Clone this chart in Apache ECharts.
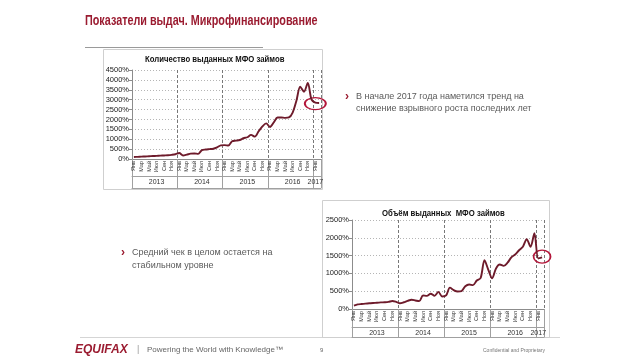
<!DOCTYPE html>
<html><head><meta charset="utf-8">
<script src="https://cdn.jsdelivr.net/npm/echarts@6/dist/echarts.min.js"></script>
<style>html,body{margin:0;padding:0;background:#fff;}#c{width:640px;height:360px;}</style>
</head><body><div id="c"></div>
<script>
const monthNames = ['Янв','Фев','Мар','Апр','Май','Июн','Июл','Авг','Сен','Окт','Ноя','Дек'];
const years = ['2013','2014','2015','2016','2017'];
const monthsPerYear = [12,12,12,12,2];
// Количество выданных МФО займов, %
const countPct = [100,110,120,130,140,150,160,170,180,190,210,240,
  300,180,220,270,280,260,450,480,500,520,590,690,
  700,680,900,930,960,1050,1100,1220,1130,1400,1650,1800,
  1620,1850,2100,2100,2080,2100,2350,2950,3650,3400,3850,3000,
  2850,2830];
// Объём выданных МФО займов, %
const volumePct = [95,130,140,150,160,170,175,185,190,200,225,200,
  160,190,230,260,240,220,380,370,430,370,480,350,
  380,600,530,490,500,640,690,670,800,870,1370,1100,
  860,1140,1250,1210,1300,1450,1530,1650,1750,1960,1750,2130,
  1420,1450];
const countAxis = {min:0, max:4500, step:500};
const volumeAxis = {min:0, max:2500, step:500};
const headerText = 'Показатели выдач. Микрофинансирование';
const chartTitles = ['Количество выданных МФО займов','Объём выданных  МФО займов'];
const bullet1 = ['В начале 2017 года наметился тренд на','снижение взрывного роста последних лет'];
const bullet2 = ['Средний чек в целом остается на','стабильном уровне'];
const highlights = [[48, 2800],[49, 1470]];

const cats = [], yearCats = [];
years.forEach((y,yi)=>{ for(let m=0;m<monthsPerYear[yi];m++){ cats.push(monthNames[m]+' '+y); yearCats.push(y);} });
const FONT = "'Liberation Sans', Arial, sans-serif";
const ycIdx = [6,18,30,42,48];

function xAxesFor(g, off1, off2){
  return [
    {type:'category', gridIndex:g, data:cats, boundaryGap:true,
     axisLine:{lineStyle:{color:'#8c8c8c',width:1}},
     axisTick:{show:true, interval:(i)=>i%12===0, length:off2, lineStyle:{color:'#a0a0a0'}},
     axisLabel:{interval:1, rotate:90, fontSize:5.5, margin:2, color:'#333', fontFamily:FONT, formatter:v=>v.split(' ')[0]},
     splitLine:{show:true, interval:(i)=>i%12===0 && i>0, lineStyle:{type:[3,2], color:'#777', width:1}}},
    {type:'category', gridIndex:g, data:yearCats, boundaryGap:true, position:'bottom', offset:off1,
     axisLine:{lineStyle:{color:'#a0a0a0'}}, axisTick:{show:false},
     axisLabel:{interval:(i)=>ycIdx.indexOf(i)>=0, fontSize:7, margin:3, color:'#333', fontFamily:FONT}},
    {type:'category', gridIndex:g, data:yearCats, position:'bottom', offset:off2,
     axisLine:{lineStyle:{color:'#a0a0a0'}}, axisTick:{show:false}, axisLabel:{show:false}}
  ];
}
function yAxisFor(g, ax){
  return {type:'value', gridIndex:g, min:ax.min, max:ax.max, interval:ax.step,
    axisLine:{show:true, lineStyle:{color:'#8c8c8c'}}, axisTick:{show:true,length:3,lineStyle:{color:'#8c8c8c'}},
    axisLabel:{formatter:(v)=>String(v)+'%', fontSize:7.5, margin:3, color:'#222', fontFamily:FONT},
    splitLine:{show:true, lineStyle:{type:[1,2], color:'#b5b5b5'}}};
}
function lineSeries(xi, yi, data, hl, size){
  return {type:'line', xAxisIndex:xi, yAxisIndex:yi, data:data, smooth:0.3, showSymbol:false,
    lineStyle:{color:'#6e1b2b', width:1.9}, z:5,
    markPoint:{symbol:'circle', symbolSize:size, silent:true, label:{show:false},
      itemStyle:{color:'rgba(0,0,0,0)', borderColor:'#b3163a', borderWidth:1.5},
      data:[{coord:[cats[hl[0]], hl[1]]}]}};
}
const chart = echarts.init(document.getElementById('c'), null, {renderer:'canvas'});
const textStyle = (s, size, color, extra) => Object.assign({text:s, fontSize:size, fill:color, fontFamily:FONT}, extra||{});
chart.setOption({
  animation:false,
  backgroundColor:'#fff',
  grid:[{left:132, top:70, width:189, height:89},{left:352, top:220, width:192, height:89}],
  xAxis:[...xAxesFor(0,17,29), ...xAxesFor(1,18,28)],
  yAxis:[yAxisFor(0,countAxis), yAxisFor(1,volumeAxis)],
  series:[lineSeries(0,0,countPct,highlights[0],[21,12]), lineSeries(3,1,volumePct,highlights[1],[17,13])],
  graphic:[
    {type:'rect', shape:{x:103.5,y:49.5,width:219,height:140}, style:{fill:'none',stroke:'#cfcfcf'}, z:-1},
    {type:'rect', shape:{x:322.5,y:200.5,width:227,height:137}, style:{fill:'none',stroke:'#cfcfcf'}, z:-1},
    {type:'text', x:85, y:21, scaleX:0.72, style:textStyle(headerText,15,'#9b1c31',{fontWeight:'bold',verticalAlign:'middle'})},
    {type:'line', shape:{x1:85,y1:47.5,x2:263,y2:47.5}, style:{stroke:'#9a9a9a',lineWidth:1}},
    {type:'text', x:145, y:60, scaleX:0.86, style:textStyle(chartTitles[0],9,'#111',{fontWeight:'bold',verticalAlign:'middle'})},
    {type:'text', x:382, y:214, scaleX:0.86, style:textStyle(chartTitles[1],9,'#111',{fontWeight:'bold',verticalAlign:'middle'})},
    {type:'text', x:345, y:97, style:textStyle('›',12,'#9b1c31',{fontWeight:'bold',verticalAlign:'middle'})},
    {type:'text', x:356, y:97, style:textStyle(bullet1[0],9,'#5a5a5a',{verticalAlign:'middle'})},
    {type:'text', x:356, y:109, style:textStyle(bullet1[1],9,'#5a5a5a',{verticalAlign:'middle'})},
    {type:'text', x:121, y:253, style:textStyle('›',12,'#9b1c31',{fontWeight:'bold',verticalAlign:'middle'})},
    {type:'text', x:132, y:253, style:textStyle(bullet2[0],9,'#5a5a5a',{verticalAlign:'middle'})},
    {type:'text', x:132, y:266, style:textStyle(bullet2[1],9,'#5a5a5a',{verticalAlign:'middle'})},
    {type:'line', shape:{x1:80,y1:337.5,x2:560,y2:337.5}, style:{stroke:'#d5d5d5',lineWidth:1}, z:-2},
    {type:'text', x:75, y:350, style:textStyle('EQUIFAX',12,'#9b1c31',{fontWeight:'bold',fontStyle:'italic',verticalAlign:'middle'})},
    {type:'text', x:137, y:350, style:textStyle('|',9,'#999',{verticalAlign:'middle'})},
    {type:'text', x:147, y:350, style:textStyle('Powering the World with Knowledge™',8,'#666',{verticalAlign:'middle'})},
    {type:'text', x:320, y:350, style:textStyle('9',6,'#666',{verticalAlign:'middle'})},
    {type:'text', x:483, y:351, style:textStyle('Confidential and Proprietary',5,'#777',{verticalAlign:'middle'})}
  ]
});
</script></body></html>
